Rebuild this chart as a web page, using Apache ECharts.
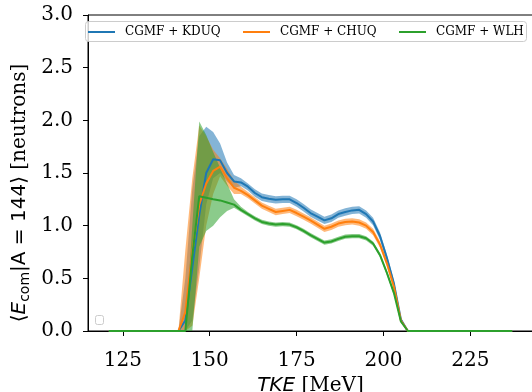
<!DOCTYPE html>
<html><head><meta charset="utf-8">
<script src="https://cdn.jsdelivr.net/npm/echarts@6/dist/echarts.min.js"></script>
<style>html,body{margin:0;padding:0;background:#fff}#c{width:532px;height:392px}</style>
</head><body><div id="c"></div>
<script>
const tke = [121,123,125,127,129,131,133,135,137,139,141,143,145,147,149,151,153,155,157,159,161,163,165,167,169,171,173,175,177,179,181,183,185,187,189,191,193,195,197,199,201,203,205,207,209,211,213,215,217,219,221,223,225,227,229,231,233,235,237];

const kduqMean = [0,0,0,0,0,0,0,0,0,0,0,
  0.1,0.6,1.1,1.5,1.63,1.62,1.5,1.42,1.41,1.37,1.31,1.27,1.255,1.245,1.25,1.25,1.215,1.17,1.12,1.085,1.05,1.07,1.11,1.13,1.145,1.15,1.11,1.04,0.90,0.69,0.45,0.11,
  0,0,0,0,0,0,0,0,0,0,0,0,0,0,0,0];
const kduqLo = [0,0,0,0,0,0,0,0,0,0,0,
  0,0.1,0.6,1.2,1.45,1.5,1.42,1.36,1.375,1.335,1.275,1.235,1.22,1.21,1.215,1.215,1.18,1.135,1.085,1.05,1.015,1.035,1.075,1.095,1.11,1.115,1.075,1.005,0.865,0.655,0.42,0.09,
  0,0,0,0,0,0,0,0,0,0,0,0,0,0,0,0];
const kduqHi = [0,0,0,0,0,0,0,0,0,0,0,
  0.5,1.35,1.85,1.94,1.89,1.78,1.6,1.48,1.45,1.4,1.345,1.305,1.29,1.28,1.285,1.285,1.25,1.205,1.155,1.12,1.085,1.105,1.145,1.165,1.18,1.185,1.145,1.075,0.935,0.725,0.48,0.13,
  0,0,0,0,0,0,0,0,0,0,0,0,0,0,0,0];

const chuqMean = [0,0,0,0,0,0,0,0,0,0,0,
  0.18,0.75,1.2,1.4,1.52,1.56,1.45,1.36,1.33,1.29,1.24,1.19,1.16,1.13,1.14,1.15,1.12,1.085,1.05,1.01,0.97,0.99,1.02,1.035,1.04,1.03,1.0,0.94,0.82,0.64,0.42,0.1,
  0,0,0,0,0,0,0,0,0,0,0,0,0,0,0,0];
const chuqLo = [0,0,0,0,0,0,0,0,0,0,0,
  0,0.05,0.5,1.0,1.3,1.47,1.38,1.3,1.3,1.26,1.21,1.16,1.13,1.1,1.11,1.12,1.09,1.055,1.02,0.98,0.94,0.96,0.99,1.005,1.01,1.0,0.97,0.91,0.79,0.61,0.39,0.08,
  0,0,0,0,0,0,0,0,0,0,0,0,0,0,0,0];
const chuqHi = [0,0,0,0,0,0,0,0,0,0,0,
  0.77,1.45,1.95,1.85,1.72,1.64,1.54,1.43,1.37,1.32,1.27,1.22,1.19,1.16,1.17,1.18,1.15,1.115,1.08,1.04,1.0,1.02,1.05,1.065,1.07,1.06,1.03,0.97,0.85,0.67,0.45,0.12,
  0,0,0,0,0,0,0,0,0,0,0,0,0,0,0,0];

const wlhMean = [0,0,0,0,0,0,0,0,0,0,0,0,
  0.71,1.28,1.265,1.25,1.24,1.22,1.20,1.15,1.11,1.07,1.035,1.02,1.01,1.015,1.01,0.985,0.95,0.91,0.875,0.84,0.85,0.875,0.895,0.90,0.90,0.88,0.83,0.72,0.55,0.36,0.09,
  0,0,0,0,0,0,0,0,0,0,0,0,0,0,0,0];
const wlhLo = [0,0,0,0,0,0,0,0,0,0,0,0,
  0,0.8,0.95,1.0,1.08,1.14,1.17,1.13,1.09,1.05,1.015,1.0,0.99,0.995,0.99,0.965,0.93,0.89,0.855,0.82,0.83,0.855,0.875,0.88,0.88,0.86,0.81,0.70,0.53,0.34,0.08,
  0,0,0,0,0,0,0,0,0,0,0,0,0,0,0,0];
const wlhHi = [0,0,0,0,0,0,0,0,0,0,0,0,
  1.0,1.99,1.86,1.7,1.55,1.4,1.25,1.18,1.13,1.09,1.055,1.04,1.03,1.035,1.03,1.005,0.97,0.93,0.895,0.86,0.87,0.895,0.915,0.92,0.92,0.90,0.85,0.74,0.57,0.38,0.10,
  0,0,0,0,0,0,0,0,0,0,0,0,0,0,0,0];

const xTicks = [125,150,175,200,225];
const names = ['CGMF + KDUQ','CGMF + CHUQ','CGMF + WLH'];
const colors = ['#1f77b4','#ff7f0e','#2ca02c'];

function pairs(y){ return tke.map((x,i)=>[x,y[i]]); }
function band(key, lo, hi, color){
  return {
    type:'custom', name:key+'_band', silent:true, clip:true, animation:false,
    data: tke.map((x,i)=>[x, lo[i], hi[i]]),
    encode:{x:0, y:[1,2]},
    renderItem: function(params, api){
      if (params.dataIndex !== 0) return null;
      const pts = [];
      for (let j = 0; j < tke.length; j++) pts.push(api.coord([tke[j], hi[j]]));
      for (let j = tke.length - 1; j >= 0; j--) pts.push(api.coord([tke[j], lo[j]]));
      return {type:'polygon', shape:{points:pts}, style:{fill:color, opacity:0.55}};
    }
  };
}
function mean(name, y, color){
  return {type:'line', name:name, data:pairs(y), symbol:'none', silent:true,
    lineStyle:{width:2, color:color}, itemStyle:{color:color}, animation:false};
}

const series = [
  band('kd', kduqLo, kduqHi, colors[0]), mean(names[0], kduqMean, colors[0]),
  band('ch', chuqLo, chuqHi, colors[1]), mean(names[1], chuqMean, colors[1]),
  band('wl', wlhLo, wlhHi, colors[2]), mean(names[2], wlhMean, colors[2])
];

const legendLeft = [88, 243, 399];
const legends = names.map((n,i)=>({
  left: legendLeft[i], top: 25, padding: 0, itemWidth: 27, itemHeight: 2, icon: 'rect',
  selectedMode: false, data: [{name:n}],
  textStyle: {fontFamily:'DejaVu Serif', fontSize:12, color:'#000', padding:[0,0,0,5], lineHeight:14}
}));

const chart = echarts.init(document.getElementById('c'), null, {renderer:'canvas'});
chart.setOption({
  animation: false,
  backgroundColor: '#fff',
  grid: {left:88, top:15, right:-1, bottom:61, show:true, borderColor:'#000', borderWidth:1,
         containLabel:false, outerBoundsMode:'none'},
  legend: legends,
  graphic: [
    {type:'rect', z: 3, shape:{x:85.5, y:21.5, width:441, height:20, r:3},
     style:{fill:'rgba(255,255,255,0.8)', stroke:'#cccccc', lineWidth:1}},
    {type:'rect', z: 3, shape:{x:95.5, y:315.5, width:8, height:9, r:2},
     style:{fill:'#fff', stroke:'#cccccc', lineWidth:1}},
    {type:'text', z: 5, x: 20, y: 193, rotation: Math.PI/2,
     style:{
       text:'{a|⟨}{e|E}{s|com}{a||A = 144⟩}{b| [neutrons]}',
       align:'center', verticalAlign:'middle', fill:'#000',
       rich:{
         a:{fontFamily:'DejaVu Sans', fontSize:20, fill:'#000', lineHeight:24},
         e:{fontFamily:'DejaVu Sans', fontStyle:'italic', fontSize:20, fill:'#000', lineHeight:24},
         s:{fontFamily:'DejaVu Sans', fontSize:14, fill:'#000', lineHeight:14, verticalAlign:'bottom'},
         b:{fontFamily:'DejaVu Serif', fontSize:20, fill:'#000', lineHeight:24}
       }
     }}
  ],
  xAxis: {
    type:'value', min:115, max:243,
    axisLine:{show:true, onZero:false, lineStyle:{color:'#000', width:1}},
    axisTick:{show:true, customValues:xTicks, length:5, lineStyle:{color:'#000'}},
    axisLabel:{customValues:xTicks, fontFamily:'DejaVu Serif', fontSize:20, color:'#000', margin:20},
    splitLine:{show:false},
    name:'{i|TKE}{r| [MeV]}', nameLocation:'middle', nameGap:37,
    nameTextStyle:{fontSize:20, color:'#000', rich:{
      i:{fontFamily:'DejaVu Sans', fontStyle:'italic', fontSize:20, color:'#000'},
      r:{fontFamily:'DejaVu Serif', fontSize:20, color:'#000'}
    }}
  },
  yAxis: {
    type:'value', min:0, max:3, interval:0.5,
    axisLine:{show:true, onZero:false, lineStyle:{color:'#000', width:1}},
    axisTick:{show:true, length:5, lineStyle:{color:'#000'}},
    axisLabel:{formatter:v=>v.toFixed(1), fontFamily:'DejaVu Serif', fontSize:20, color:'#000', margin:15},
    splitLine:{show:false}
  },
  series: series
});
</script>
</body></html>
